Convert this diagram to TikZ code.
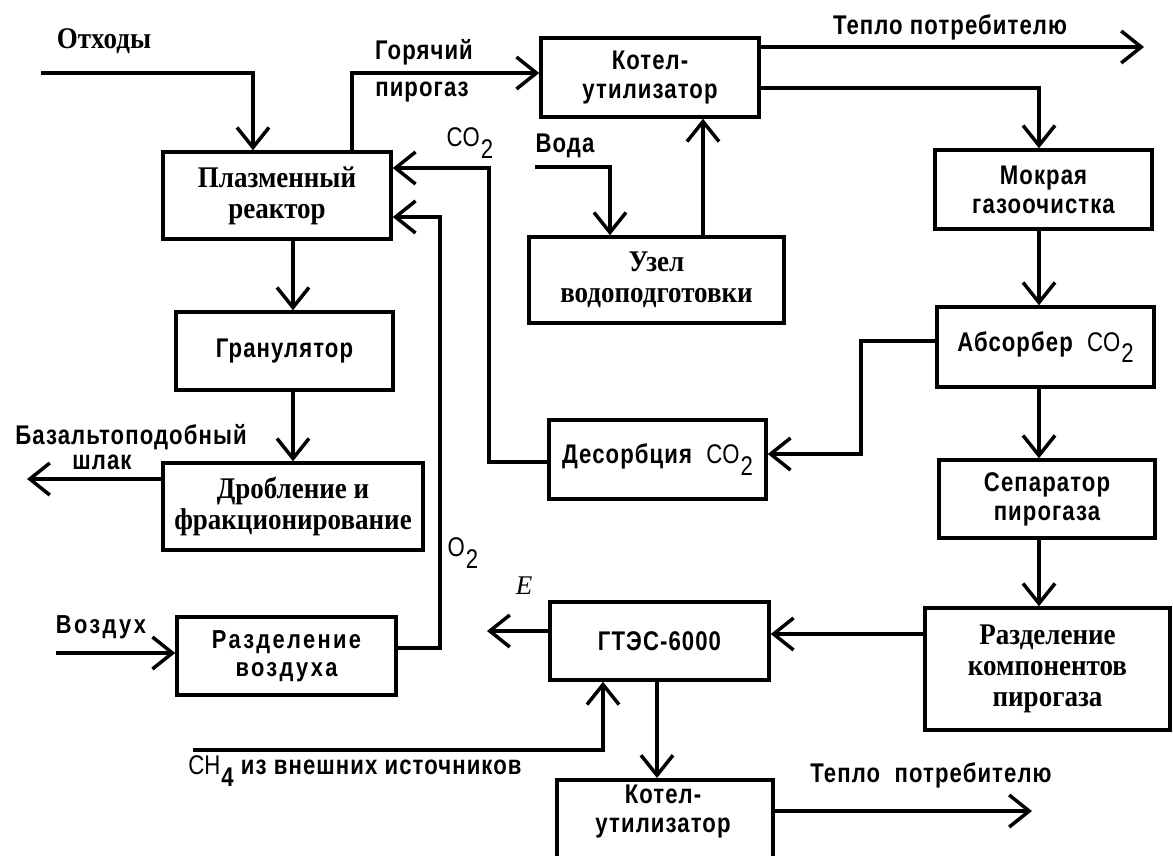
\documentclass[tikz,border=0pt]{standalone}
\usepackage{fontspec}
\setmainfont[FakeStretch=0.9]{Liberation Serif}
\newfontfamily\serifit{Liberation Serif}
\newfontfamily\ssf[LetterSpace=4,FakeStretch=0.82]{Liberation Sans}
\newfontfamily\ssw[LetterSpace=9,FakeStretch=0.84]{Liberation Sans}
\newfontfamily\ssn[FakeStretch=0.82]{Liberation Sans}
\usetikzlibrary{arrows.meta}
\newcommand\lowsub[1]{\raisebox{-0.42em}{\kern1pt#1}}
\begin{document}
\begin{tikzpicture}[x=1pt,y=-1pt,
 box/.style={draw, line width=3.5pt, inner sep=0pt, align=center},
 sbox/.style={box, font=\fontsize{27}{29}\selectfont\ssf\bfseries},
 wbox/.style={box, font=\fontsize{26}{28}\selectfont\ssw\bfseries},
 rbox/.style={box, font=\fontsize{30}{31}\selectfont\bfseries},
 stext/.style={inner sep=0pt, align=center, font=\fontsize{27}{29}\selectfont\ssf\bfseries},
 wtext/.style={inner sep=0pt, font=\fontsize{26}{28}\selectfont\ssw\bfseries},
 rtext/.style={inner sep=0pt, font=\fontsize{30}{31}\selectfont\bfseries},
 ctext/.style={inner sep=0pt, font=\fontsize{27}{28}\selectfont\ssn},
 etext/.style={inner sep=0pt, font=\fontsize{27}{28}\selectfont\serifit\itshape},
 arr/.style={line width=3.5pt, -{Straight Barb[length=20pt,width=32pt,line width=3.5pt]}},
 ln/.style={line width=3.5pt}
]
\useasboundingbox (0,0) rectangle (1173,855);
\fill[white] (0,0) rectangle (1173,855);
\clip (0,0) rectangle (1173,855);

% boxes
\node[rbox, minimum width=228pt, minimum height=87pt] (plasma) at (277,195.5) {Плазменный\\реактор};
\node[sbox, minimum width=217pt, minimum height=78pt] (gran) at (284.5,351) {Гранулятор};
\node[rbox, minimum width=260pt, minimum height=87pt] (drob) at (293,506.5) {Дробление и\\фракционирование};
\node[wbox, minimum width=219pt, minimum height=78pt] (razv) at (286.5,656) {Разделение\\воздуха};
\node[sbox, minimum width=218pt, minimum height=79pt] (kotel1) at (650,77.5) {Котел-\\утилизатор};
\node[rbox, minimum width=255pt, minimum height=86pt] (uzel) at (656.5,280) {Узел\\водоподготовки};
\node[sbox, minimum width=217pt, minimum height=79pt] (desorb) at (657.5,459.5) {Десорбция\ \ {\ssn\mdseries CO\lowsub{2}}};
\node[sbox, minimum width=219pt, minimum height=78pt] (gtes) at (659.5,641) {ГТЭС-6000};
\node[sbox, minimum width=216pt, minimum height=82pt, anchor=north] (kotel2) at (665,778) {};
\node[stext] (kotel2t) at (663,812) {Котел-\\утилизатор};
\node[sbox, minimum width=217pt, minimum height=79pt] (mokr) at (1043.5,189.5) {Мокрая\\газоочистка};
\node[sbox, minimum width=217pt, minimum height=80pt] (absorb) at (1045.5,347) {Абсорбер\ \ {\ssn\mdseries CO\lowsub{2}}};
\node[sbox, minimum width=216pt, minimum height=78pt] (separ) at (1047,499) {Сепаратор\\пирогаза};
\node[rbox, minimum width=245pt, minimum height=122pt] (razk) at (1047.5,669) {Разделение\\компонентов\\пирогаза};

% labels
\node[rtext] (otxody) at (104,41) {Отходы};
\node[stext] (gor) at (424,52) {Горячий};
\node[stext] (pir) at (422,92) {пирогаз};
\node[ctext] (co2l) at (470,143) {CO\lowsub{2}};
\node[stext] (voda) at (565,146) {Вода};
\node[stext] (teplo1l) at (950,27) {Тепло потребителю};
\node[stext, anchor=base, text depth=0pt] (bazl) at (131,444) {Базальтоподобный};
\node[stext, anchor=base, text height=14pt] (shl) at (102,469) {шлак};
\node[ctext] (o2l) at (463,553) {O\lowsub{2}};
\node[wtext] (vozd) at (101,627) {Воздух};
\node[etext] (el) at (524,586) {E};
\node[stext] (ch4l) at (355,771) {{\ssn\mdseries CH}\lowsub{4} из внешних источников};
\node[stext] (teplo2l) at (931,775) {Тепло\ \ потребителю};

% routing coordinates
\coordinate (otin) at (41,73);
\coordinate (x253) at (253,0);
\coordinate (x352) at (352,73);
\coordinate (teplo1) at (1144,47);
\coordinate (k1b) at (0,88);
\coordinate (x1039) at (1039,0);
\coordinate (vodain) at (535,167);
\coordinate (x610) at (610,0);
\coordinate (x703) at (703,0);
\coordinate (x293) at (293,0);
\coordinate (slag) at (27,479);
\coordinate (airin) at (56,653);
\coordinate (o2a) at (440,648);
\coordinate (o2b) at (440,217);
\coordinate (co2a) at (489,462);
\coordinate (co2b) at (489,168);
\coordinate (aba) at (861,341);
\coordinate (abb) at (861,454);
\coordinate (gy) at (0,634);
\coordinate (eout) at (487,631);
\coordinate (ch4in) at (193,750);
\coordinate (ch4b) at (603,750);
\coordinate (x657) at (657,0);
\coordinate (teplo2) at (1032,811);

% connectors
\draw[arr] (otin) -| (x253 |- plasma.north);
\draw[arr] (x352 |- plasma.north) -- (x352) -- (kotel1.west |- x352);
\draw[arr] (kotel1.east |- teplo1) -- (teplo1);
\draw[arr] (kotel1.east |- k1b) -| (x1039 |- mokr.north);
\draw[arr] (vodain) -| (x610 |- uzel.north);
\draw[arr] (x703 |- uzel.north) -- (x703 |- kotel1.south);
\draw[arr] (x293 |- plasma.south) -- (x293 |- gran.north);
\draw[arr] (x293 |- gran.south) -- (x293 |- drob.north);
\draw[arr] (drob.west |- slag) -- (slag);
\draw[arr] (airin) -- (razv.west |- airin);
\draw[arr] (razv.east |- o2a) -- (o2a) -- (o2b) -- (plasma.east |- o2b);
\draw[arr] (desorb.west |- co2a) -- (co2a) -- (co2b) -- (plasma.east |- co2b);
\draw[arr] (absorb.west |- aba) -- (aba) -- (abb) -- (desorb.east |- abb);
\draw[arr] (x1039 |- mokr.south) -- (x1039 |- absorb.north);
\draw[arr] (x1039 |- absorb.south) -- (x1039 |- separ.north);
\draw[arr] (x1039 |- separ.south) -- (x1039 |- razk.north);
\draw[arr] (razk.west |- gy) -- (gtes.east |- gy);
\draw[arr] (gtes.west |- eout) -- (eout);
\draw[arr] (ch4in) -- (ch4b) -- (ch4b |- gtes.south);
\draw[arr] (x657 |- gtes.south) -- (x657 |- kotel2.north);
\draw[arr] (kotel2.east |- teplo2) -- (teplo2);
\end{tikzpicture}
\end{document}
